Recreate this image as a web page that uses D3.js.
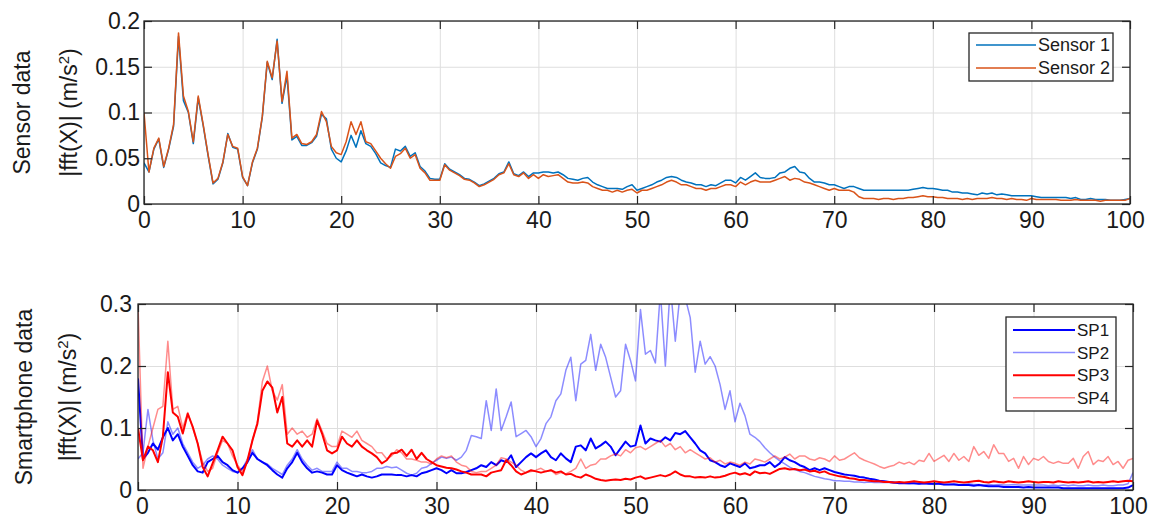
<!DOCTYPE html>
<html>
<head>
<meta charset="utf-8">
<script src="https://cdn.jsdelivr.net/npm/d3@7"></script>
<style>
  body { margin: 0; background: #fff; }
  text { font-family: "Liberation Sans", Arial, sans-serif; fill: #1a1a1a; }
</style>
</head>
<body>
<div id="chart"></div>
<script>
// frequency grid: one sample every 0.5 Hz from 0 to 100
const step = 0.5

const xTicks = [0, 10, 20, 30, 40, 50, 60, 70, 80, 90, 100]
const yTicksTop = [0, 0.05, 0.1, 0.15, 0.2]
const yTicksBottom = [0, 0.1, 0.2, 0.3]

// top panel: |fft| of the two reference sensors
const sensor1 = [
  0.045,0.035,0.060,0.071,0.040,0.060,0.085,0.183,0.113,0.100,
  0.066,0.116,0.086,0.053,0.022,0.027,0.045,0.077,0.062,0.060,
  0.029,0.020,0.045,0.060,0.095,0.155,0.136,0.180,0.110,0.140,
  0.070,0.074,0.064,0.064,0.067,0.074,0.098,0.093,0.060,0.050,
  0.046,0.058,0.075,0.062,0.080,0.066,0.063,0.055,0.045,0.042,
  0.040,
  0.060,0.058,0.063,0.052,0.056,0.041,0.036,0.028,0.027,0.027,
  0.044,0.038,0.035,0.032,0.028,0.027,0.024,0.020,0.022,0.025,
  0.028,0.033,0.035,0.046,0.033,0.031,0.035,0.030,0.034,0.034,
  0.035,0.035,0.034,0.035,0.032,0.028,0.027,0.026,0.028,0.029,
  0.024,0.021,0.019,0.017,0.017,0.017,0.016,0.019,0.021,0.015,
  0.017,0.019,0.021,0.024,0.026,0.029,0.030,0.029,0.026,0.024,
  0.023,0.021,0.021,0.019,0.021,0.020,0.023,0.026,0.026,0.023,
  0.029,0.026,0.030,0.034,0.029,0.028,0.028,0.029,0.034,0.035,
  0.039,0.041,0.035,0.034,0.028,0.024,0.024,0.023,0.021,0.021,
  0.019,0.017,0.019,0.019,0.017,0.015,0.015,0.015,0.015,0.015,
  0.015,0.015,0.015,0.015,0.015,0.016,0.017,0.018,0.017,0.017,
  0.016,0.015,0.015,0.013,0.013,0.012,0.012,0.011,0.010,0.012,
  0.011,0.012,0.010,0.011,0.010,0.009,0.009,0.009,0.009,0.009,
  0.008,0.007,0.007,0.007,0.007,0.007,0.007,0.006,0.007,0.005,
  0.005,0.006,0.005,0.005,0.005,0.004,0.004,0.004,0.005,0.006
]
const sensor2 = [
  0.100,0.035,0.061,0.072,0.041,0.061,0.087,0.187,0.118,0.101,
  0.068,0.118,0.087,0.054,0.023,0.028,0.046,0.076,0.063,0.061,
  0.030,0.020,0.046,0.061,0.096,0.156,0.138,0.178,0.112,0.145,
  0.072,0.076,0.066,0.065,0.068,0.076,0.101,0.090,0.063,0.056,
  0.054,0.068,0.090,0.076,0.090,0.068,0.066,0.058,0.050,0.044,
  0.039,
  0.052,0.055,0.061,0.050,0.054,0.039,0.034,0.026,0.026,0.026,
  0.043,0.037,0.034,0.031,0.027,0.026,0.023,0.019,0.021,0.024,
  0.027,0.032,0.034,0.044,0.032,0.030,0.034,0.028,0.032,0.028,
  0.032,0.030,0.031,0.032,0.028,0.024,0.023,0.023,0.024,0.023,
  0.019,0.017,0.015,0.015,0.013,0.015,0.013,0.015,0.016,0.012,
  0.015,0.015,0.017,0.019,0.021,0.024,0.026,0.024,0.021,0.021,
  0.019,0.017,0.017,0.015,0.017,0.017,0.019,0.021,0.021,0.019,
  0.024,0.021,0.024,0.026,0.024,0.024,0.024,0.026,0.028,0.030,
  0.026,0.028,0.027,0.024,0.023,0.021,0.019,0.017,0.015,0.017,
  0.015,0.015,0.015,0.013,0.008,0.006,0.006,0.006,0.005,0.006,
  0.006,0.005,0.006,0.006,0.007,0.007,0.008,0.009,0.008,0.008,
  0.007,0.007,0.006,0.006,0.006,0.005,0.006,0.005,0.006,0.006,
  0.006,0.007,0.006,0.006,0.005,0.006,0.005,0.005,0.004,0.006,
  0.005,0.005,0.005,0.005,0.005,0.004,0.004,0.004,0.005,0.004,
  0.004,0.004,0.004,0.003,0.004,0.004,0.004,0.004,0.004,0.006
]

// bottom panel: the four smartphones
const sp1 = [
  0.180,0.050,0.060,0.075,0.065,0.085,0.100,0.080,0.090,0.070,
  0.055,0.040,0.030,0.028,0.045,0.050,0.055,0.045,0.040,0.032,
  0.028,0.035,0.045,0.060,0.050,0.045,0.040,0.032,0.025,0.020,
  0.035,0.045,0.060,0.045,0.035,0.028,0.030,0.028,0.025,0.025,
  0.040,0.032,0.028,0.025,0.022,0.025,0.022,0.020,0.022,0.025,
  0.025,
  0.025,0.024,0.024,0.022,0.024,0.022,0.027,0.029,0.032,0.035,
  0.032,0.027,0.032,0.027,0.027,0.029,0.032,0.035,0.040,0.037,
  0.045,0.040,0.048,0.045,0.056,0.037,0.045,0.053,0.059,0.053,
  0.059,0.064,0.053,0.048,0.059,0.051,0.045,0.070,0.072,0.064,
  0.083,0.067,0.072,0.078,0.070,0.056,0.067,0.078,0.070,0.072,
  0.104,0.075,0.083,0.080,0.078,0.085,0.080,0.092,0.090,0.095,
  0.085,0.075,0.064,0.059,0.048,0.045,0.040,0.037,0.043,0.040,
  0.037,0.043,0.035,0.037,0.040,0.040,0.045,0.037,0.043,0.053,
  0.048,0.045,0.040,0.037,0.032,0.035,0.032,0.035,0.032,0.029,
  0.027,0.025,0.024,0.023,0.021,0.020,0.018,0.017,0.015,0.014,
  0.013,0.012,0.011,0.011,0.011,0.011,0.010,0.011,0.010,0.010,
  0.010,0.009,0.009,0.009,0.008,0.008,0.008,0.007,0.008,0.007,
  0.006,0.006,0.006,0.005,0.005,0.005,0.005,0.004,0.005,0.004,
  0.004,0.004,0.004,0.004,0.004,0.003,0.003,0.003,0.003,0.003,
  0.003,0.003,0.003,0.003,0.003,0.003,0.003,0.003,0.004,0.008
]
const sp2 = [
  0.050,0.060,0.130,0.080,0.050,0.060,0.110,0.090,0.100,0.075,
  0.060,0.045,0.035,0.040,0.050,0.055,0.050,0.040,0.035,0.030,
  0.028,0.035,0.050,0.065,0.050,0.045,0.042,0.035,0.030,0.025,
  0.040,0.050,0.065,0.050,0.040,0.032,0.035,0.030,0.030,0.030,
  0.045,0.035,0.035,0.030,0.030,0.028,0.028,0.030,0.035,0.035,
  0.038,
  0.036,0.037,0.032,0.027,0.024,0.027,0.035,0.037,0.043,0.048,
  0.053,0.051,0.053,0.048,0.053,0.064,0.088,0.086,0.083,0.144,
  0.096,0.163,0.096,0.118,0.142,0.086,0.091,0.096,0.086,0.070,
  0.083,0.107,0.118,0.144,0.155,0.193,0.214,0.144,0.203,0.209,
  0.251,0.193,0.235,0.214,0.182,0.150,0.160,0.235,0.209,0.176,
  0.291,0.219,0.225,0.205,0.320,0.200,0.330,0.240,0.320,0.310,
  0.278,0.190,0.240,0.203,0.215,0.200,0.170,0.130,0.160,0.110,
  0.140,0.120,0.090,0.085,0.078,0.068,0.060,0.053,0.047,0.042,
  0.037,0.033,0.030,0.028,0.025,0.022,0.020,0.018,0.017,0.015,
  0.015,0.014,0.014,0.013,0.013,0.012,0.013,0.012,0.012,0.012,
  0.012,0.011,0.012,0.011,0.010,0.011,0.010,0.010,0.010,0.009,
  0.010,0.009,0.009,0.010,0.009,0.009,0.010,0.009,0.009,0.008,
  0.009,0.008,0.009,0.008,0.008,0.009,0.008,0.008,0.008,0.008,
  0.008,0.008,0.007,0.008,0.007,0.008,0.007,0.008,0.007,0.007,
  0.008,0.007,0.007,0.008,0.007,0.007,0.008,0.008,0.010,0.028
]
const sp3 = [
  0.100,0.048,0.070,0.064,0.045,0.086,0.190,0.125,0.118,0.091,
  0.123,0.102,0.075,0.037,0.022,0.043,0.064,0.086,0.075,0.064,
  0.037,0.024,0.048,0.080,0.107,0.160,0.175,0.165,0.125,0.150,
  0.075,0.070,0.080,0.070,0.080,0.070,0.112,0.091,0.064,0.059,
  0.064,0.086,0.075,0.070,0.080,0.070,0.064,0.059,0.053,0.043,
  0.048,
  0.059,0.060,0.065,0.055,0.065,0.050,0.060,0.050,0.045,0.040,
  0.038,0.036,0.035,0.033,0.030,0.028,0.025,0.025,0.025,0.022,
  0.028,0.030,0.032,0.048,0.040,0.030,0.025,0.028,0.032,0.030,
  0.028,0.030,0.032,0.028,0.030,0.025,0.026,0.022,0.020,0.025,
  0.022,0.018,0.016,0.015,0.016,0.017,0.016,0.018,0.017,0.020,
  0.022,0.018,0.020,0.022,0.024,0.022,0.025,0.030,0.025,0.022,
  0.022,0.020,0.021,0.020,0.022,0.020,0.021,0.023,0.026,0.028,
  0.025,0.027,0.024,0.030,0.027,0.028,0.026,0.030,0.034,0.035,
  0.033,0.034,0.032,0.033,0.030,0.031,0.028,0.030,0.026,0.024,
  0.022,0.021,0.019,0.018,0.016,0.016,0.015,0.014,0.014,0.013,
  0.013,0.012,0.013,0.012,0.013,0.014,0.013,0.012,0.013,0.014,
  0.013,0.012,0.013,0.014,0.013,0.012,0.013,0.014,0.015,0.013,
  0.012,0.014,0.013,0.012,0.014,0.013,0.012,0.013,0.014,0.013,
  0.012,0.013,0.013,0.012,0.014,0.013,0.012,0.013,0.012,0.013,
  0.014,0.012,0.013,0.012,0.013,0.014,0.013,0.014,0.015,0.014
]
const sp4 = [
  0.300,0.035,0.070,0.100,0.130,0.135,0.240,0.130,0.135,0.100,
  0.125,0.100,0.075,0.045,0.030,0.035,0.060,0.080,0.075,0.055,
  0.040,0.030,0.045,0.080,0.110,0.175,0.200,0.160,0.145,0.170,
  0.090,0.100,0.090,0.095,0.085,0.090,0.115,0.095,0.075,0.070,
  0.070,0.095,0.090,0.085,0.095,0.080,0.075,0.070,0.060,0.060,
  0.050,
  0.055,0.065,0.060,0.050,0.050,0.048,0.045,0.045,0.042,0.050,
  0.055,0.052,0.055,0.045,0.040,0.038,0.030,0.028,0.030,0.030,
  0.035,0.040,0.052,0.050,0.045,0.040,0.032,0.028,0.030,0.032,
  0.035,0.030,0.032,0.025,0.028,0.026,0.030,0.035,0.050,0.035,
  0.040,0.042,0.050,0.050,0.055,0.058,0.055,0.065,0.060,0.068,
  0.070,0.065,0.070,0.075,0.080,0.070,0.075,0.065,0.070,0.060,
  0.065,0.060,0.055,0.050,0.052,0.045,0.048,0.042,0.045,0.043,
  0.040,0.045,0.042,0.050,0.048,0.045,0.050,0.055,0.050,0.053,
  0.058,0.050,0.055,0.055,0.050,0.048,0.052,0.050,0.046,0.055,
  0.048,0.050,0.055,0.060,0.052,0.048,0.045,0.042,0.038,0.035,
  0.038,0.040,0.045,0.042,0.045,0.041,0.048,0.046,0.059,0.046,
  0.051,0.056,0.046,0.059,0.048,0.054,0.046,0.070,0.056,0.062,
  0.051,0.073,0.059,0.059,0.046,0.051,0.035,0.054,0.041,0.051,
  0.048,0.054,0.046,0.043,0.046,0.043,0.043,0.051,0.035,0.054,
  0.062,0.041,0.048,0.046,0.054,0.041,0.046,0.035,0.048,0.051
]

const W = 1150, H = 520

const svg = d3.select('#chart')
  .append('svg')
  .attr('width', W)
  .attr('height', H)

function drawPanel(cfg) {
  const x = d3.scaleLinear().domain([0, 100]).range([cfg.left, cfg.right])
  const y = d3.scaleLinear().domain([0, cfg.ymax]).range([cfg.bottom, cfg.top])
  const w = cfg.right - cfg.left
  const h = cfg.bottom - cfg.top

  const g = svg.append('g').attr('id', cfg.id)

  // grid
  g.append('g')
    .attr('transform', 'translate(0,' + cfg.bottom + ')')
    .call(d3.axisBottom(x).tickValues(xTicks).tickSize(-h).tickFormat(''))
    .call(s => s.select('.domain').remove())
    .call(s => s.selectAll('line').attr('stroke', '#dedede'))
  g.append('g')
    .attr('transform', 'translate(' + cfg.left + ',0)')
    .call(d3.axisLeft(y).tickValues(cfg.yTicks).tickSize(-w).tickFormat(''))
    .call(s => s.select('.domain').remove())
    .call(s => s.selectAll('line').attr('stroke', '#dedede'))

  // lines
  svg.append('clipPath').attr('id', cfg.id + '-clip')
    .append('rect').attr('x', cfg.left).attr('y', cfg.top).attr('width', w).attr('height', h)

  const line = d3.line()
    .x((d, i) => x(i * step))
    .y(d => y(d))

  const plot = g.append('g').attr('clip-path', 'url(#' + cfg.id + '-clip)')
  cfg.series.forEach(s => {
    plot.append('path')
      .datum(s.values)
      .attr('fill', 'none')
      .attr('stroke', s.color)
      .attr('stroke-opacity', s.opacity)
      .attr('stroke-width', s.width)
      .attr('stroke-linejoin', 'round')
      .attr('d', line)
  })

  // axes, ticks pointing inwards on all four sides
  const tick = 8
  const styleAxis = s => {
    s.select('.domain').remove()
    s.selectAll('line').attr('stroke', '#262626').attr('stroke-width', 1.2)
    s.selectAll('text').style('font-size', '23px').attr('fill', '#1a1a1a')
  }
  const xAxis = g.append('g')
    .attr('transform', 'translate(0,' + cfg.bottom + ')')
    .call(d3.axisBottom(x).tickValues(xTicks).tickSize(-tick).tickPadding(8).tickFormat(d3.format('d')))
    .call(styleAxis)
  // end labels sit a little inside the box, as in the original figure
  xAxis.selectAll('text').filter(d => d === 100).attr('dx', -5)
  xAxis.selectAll('text').filter(d => d === 0).attr('dx', cfg.zeroShift)

  g.append('g')
    .attr('transform', 'translate(0,' + cfg.top + ')')
    .call(d3.axisTop(x).tickValues(xTicks).tickSize(-tick).tickFormat(''))
    .call(styleAxis)
  g.append('g')
    .attr('transform', 'translate(' + cfg.left + ',0)')
    .call(d3.axisLeft(y).tickValues(cfg.yTicks).tickSize(-tick).tickPadding(cfg.ypad).tickFormat(d => d3.format('')(+d.toFixed(2))))
    .call(styleAxis)
  g.append('g')
    .attr('transform', 'translate(' + cfg.right + ',0)')
    .call(d3.axisRight(y).tickValues(cfg.yTicks).tickSize(-tick).tickFormat(''))
    .call(styleAxis)

  g.append('rect')
    .attr('x', cfg.left).attr('y', cfg.top)
    .attr('width', w).attr('height', h)
    .attr('fill', 'none').attr('stroke', '#262626').attr('stroke-width', 1.3)

  // y labels
  const cy = (cfg.top + cfg.bottom) / 2
  g.append('text')
    .attr('transform', 'translate(' + cfg.label1x + ',' + cy + ') rotate(-90)')
    .attr('text-anchor', 'middle').attr('dy', '0.36em')
    .style('font-size', '23px')
    .text(cfg.label1)
  const t2 = g.append('text')
    .attr('transform', 'translate(' + cfg.label2x + ',' + cy + ') rotate(-90)')
    .attr('text-anchor', 'middle').attr('dy', '0.36em')
    .style('font-size', '23px')
  t2.append('tspan').text('|fft(X)| (m/s')
  t2.append('tspan').attr('baseline-shift', 'super').style('font-size', '15px').text('2')
  t2.append('tspan').text(')')

  // legend
  const L = cfg.legend
  const lg = g.append('g')
  lg.append('rect')
    .attr('x', L.x).attr('y', L.y).attr('width', L.w).attr('height', L.h)
    .attr('fill', '#fff').attr('stroke', '#262626').attr('stroke-width', 1.3)
  cfg.series.forEach((s, i) => {
    const ry = L.y + L.first + i * L.gap
    lg.append('line')
      .attr('x1', L.x + 7).attr('x2', L.x + L.lineLen + 7)
      .attr('y1', ry).attr('y2', ry)
      .attr('stroke', s.color).attr('stroke-opacity', s.opacity).attr('stroke-width', s.width)
    lg.append('text')
      .attr('x', L.x + L.lineLen + 9).attr('y', ry).attr('dy', '0.36em')
      .style('font-size', L.font + 'px')
      .text(s.name)
  })
}

drawPanel({
  id: 'top', left: 144, right: 1130, top: 21, bottom: 204,
  ymax: 0.2, yTicks: yTicksTop, ypad: 4, zeroShift: 0,
  label1: 'Sensor data', label1x: 22, label2x: 69,
  series: [
    { name: 'Sensor 1', values: sensor1, color: '#0072BD', opacity: 1, width: 1.5 },
    { name: 'Sensor 2', values: sensor2, color: '#D95319', opacity: 1, width: 1.5 }
  ],
  legend: { x: 969, y: 33, w: 144, h: 48, first: 12, gap: 23, lineLen: 60, font: 18 }
})

drawPanel({
  id: 'bottom', left: 138, right: 1133, top: 304, bottom: 490,
  ymax: 0.3, yTicks: yTicksBottom, ypad: 6, zeroShift: 4,
  label1: 'Smartphone data', label1x: 24, label2x: 68,
  series: [
    { name: 'SP1', values: sp1, color: '#0000ff', opacity: 1, width: 2 },
    { name: 'SP2', values: sp2, color: '#0000ff', opacity: 0.45, width: 1.5 },
    { name: 'SP3', values: sp3, color: '#ff0000', opacity: 1, width: 2 },
    { name: 'SP4', values: sp4, color: '#ff0000', opacity: 0.45, width: 1.5 }
  ],
  legend: { x: 1006, y: 317, w: 110, h: 94, first: 13, gap: 22.6, lineLen: 62, font: 17 }
})
</script>
</body>
</html>
